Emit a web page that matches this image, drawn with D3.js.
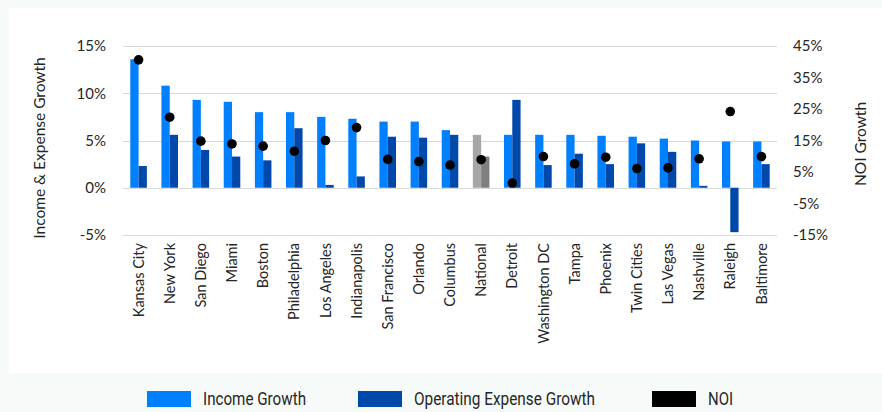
<!DOCTYPE html>
<html>
<head>
<meta charset="utf-8">
<script src="https://cdn.jsdelivr.net/npm/d3@7"></script>
<style>
  body { margin: 0; background: #f6faf8; }
  svg { display: block; }
</style>
</head>
<body>
<script>
const width = 882
const height = 412

// data
const cities = ['Kansas City', 'New York', 'San Diego', 'Miami', 'Boston', 'Philadelphia',
    'Los Angeles', 'Indianapolis', 'San Francisco', 'Orlando', 'Columbus', 'National',
    'Detroit', 'Washington DC', 'Tampa', 'Phoenix', 'Twin Cities', 'Las Vegas',
    'Nashville', 'Raleigh', 'Baltimore']
const incomeGrowth = [13.6, 10.8, 9.3, 9.1, 8.0, 8.0, 7.5, 7.3, 7.0, 7.0, 6.1, 5.6,
    5.6, 5.6, 5.6, 5.5, 5.4, 5.2, 5.0, 4.9, 4.9]
const expenseGrowth = [2.3, 5.6, 4.0, 3.3, 2.9, 6.3, 0.3, 1.2, 5.4, 5.3, 5.6, 3.3,
    9.3, 2.4, 3.6, 2.5, 4.7, 3.8, 0.2, -4.7, 2.5]
const noiGrowth = [40.6, 22.4, 14.8, 13.9, 13.2, 11.6, 15.0, 19.1, 9.0, 8.3, 7.2, 8.9,
    1.5, 9.9, 7.6, 9.7, 6.1, 6.3, 9.2, 24.2, 9.9]
const leftTicks = [-5, 0, 5, 10, 15]
const rightTicks = [-15, -5, 5, 15, 25, 35, 45]
const legendItems = ['Income Growth', 'Operating Expense Growth', 'NOI']

const svg = d3.select('body').append('svg')
    .attr('width', width)
    .attr('height', height)

svg.append('rect')
    .attr('x', 9).attr('y', 8)
    .attr('width', 873).attr('height', 365)
    .attr('fill', '#ffffff')

const x = d3.scaleBand().domain(cities).range([123, 777])
const xSub = d3.scaleBand().domain(['income', 'expense'])
    .range([0, x.bandwidth()]).paddingOuter(0.88)
const yLeft = d3.scaleLinear().domain([-5, 15]).range([235, 46])
const yRight = d3.scaleLinear().domain([-15, 45]).range([235, 46])

const font = 'Lato, "Open Sans", sans-serif'

// gridlines
svg.append('g')
    .selectAll('line')
    .data(leftTicks)
    .enter().append('line')
    .attr('x1', 123).attr('x2', 777)
    .attr('y1', d => Math.round(yLeft(d)) + 0.5)
    .attr('y2', d => Math.round(yLeft(d)) + 0.5)
    .attr('stroke', '#d9d9d9')
    .attr('stroke-width', 1.2)

// left axis
const leftAxis = svg.append('g')
    .attr('transform', 'translate(106,0)')
    .call(d3.axisLeft(yLeft).tickValues(leftTicks).tickSize(0).tickPadding(0)
        .tickFormat(d => d + '%'))
leftAxis.select('.domain').remove()
leftAxis.selectAll('text')
    .attr('font-family', font).attr('font-size', 15).attr('fill', '#262626')

// right axis
const rightAxis = svg.append('g')
    .attr('transform', 'translate(793,0)')
    .call(d3.axisRight(yRight).tickValues(rightTicks).tickSize(0).tickPadding(0)
        .tickFormat(d => d + '%'))
rightAxis.select('.domain').remove()
rightAxis.selectAll('text')
    .attr('font-family', font).attr('font-size', 15).attr('fill', '#262626')

// axis titles
svg.append('text')
    .attr('transform', 'translate(40,148) rotate(-90)')
    .attr('text-anchor', 'middle')
    .attr('dy', '0.35em')
    .attr('font-family', font).attr('font-size', 15.5).attr('fill', '#262626')
    .text('Income & Expense Growth')
svg.append('text')
    .attr('transform', 'translate(861,144) rotate(-90)')
    .attr('text-anchor', 'middle')
    .attr('dy', '0.35em')
    .attr('font-family', font).attr('font-size', 15.5).attr('fill', '#262626')
    .text('NOI Growth')

// bars
const rows = cities.map((c, i) => ({
    city: c,
    income: incomeGrowth[i],
    expense: expenseGrowth[i],
    noi: noiGrowth[i]
}))

const groups = svg.append('g')
    .selectAll('g')
    .data(rows)
    .enter().append('g')
    .attr('transform', d => 'translate(' + x(d.city) + ',0)')

groups.selectAll('rect')
    .data(d => [
        { key: 'income', value: d.income, national: d.city === 'National' },
        { key: 'expense', value: d.expense, national: d.city === 'National' }
    ])
    .enter().append('rect')
    .attr('x', d => xSub(d.key))
    .attr('width', xSub.bandwidth())
    .attr('y', d => yLeft(Math.max(0, d.value)))
    .attr('height', d => Math.abs(yLeft(d.value) - yLeft(0)))
    .attr('fill', d => {
        if (d.national) return d.key === 'income' ? '#a6a6a6' : '#7f7f7f'
        return d.key === 'income' ? '#0080ff' : '#0049ab'
    })

// NOI dots
svg.append('g')
    .selectAll('circle')
    .data(rows)
    .enter().append('circle')
    .attr('cx', d => x(d.city) + x.bandwidth() / 2)
    .attr('cy', d => yRight(d.noi))
    .attr('r', 4.8)
    .attr('fill', '#000000')

// category labels
svg.append('g')
    .selectAll('text')
    .data(cities)
    .enter().append('text')
    .attr('transform', d => 'translate(' + (x(d) + x.bandwidth() / 2) + ',243) rotate(-90)')
    .attr('text-anchor', 'end')
    .attr('dy', '0.35em')
    .attr('font-family', font).attr('font-size', 14.5).attr('fill', '#262626')
    .text(d => d)

// legend
const legendX = [147, 358, 652]
const legendW = [103, 181, 25]
const legendColors = ['#0080ff', '#0049ab', '#000000']
const legend = svg.append('g')
    .selectAll('g')
    .data(legendItems)
    .enter().append('g')
    .attr('transform', (d, i) => 'translate(' + legendX[i] + ',391)')
legend.append('rect')
    .attr('width', 44).attr('height', 16)
    .attr('fill', (d, i) => legendColors[i])
legend.append('text')
    .attr('x', 56).attr('y', 8)
    .attr('dy', '0.36em')
    .attr('font-family', 'Roboto, sans-serif').attr('font-size', 18).attr('fill', '#262626')
    .attr('textLength', (d, i) => legendW[i])
    .attr('lengthAdjust', 'spacingAndGlyphs')
    .text(d => d)
</script>
</body>
</html>
